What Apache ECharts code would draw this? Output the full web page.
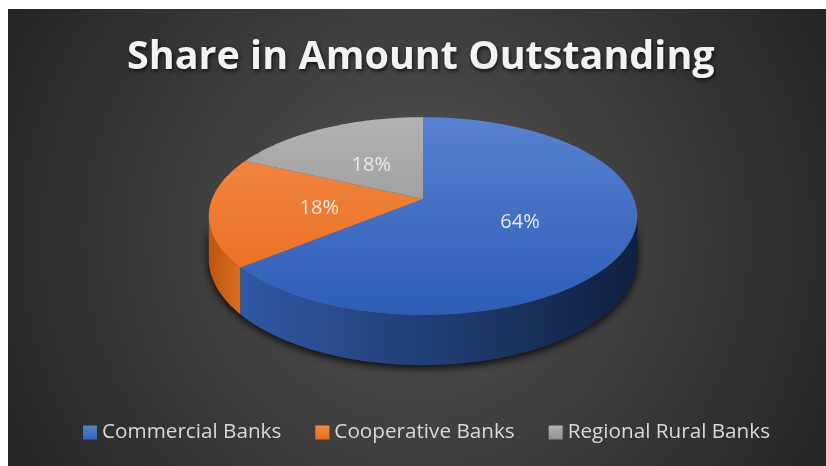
<!DOCTYPE html>
<html>
<head>
<meta charset="utf-8">
<script src="https://cdn.jsdelivr.net/npm/echarts@6/dist/echarts.min.js"></script>
<style>
  html, body { margin: 0; padding: 0; background: #ffffff; }
  #chart { width: 826px; height: 466px; }
</style>
</head>
<body>
<div id="chart"></div>
<script>
// Share of each bank group in the total amount outstanding (%)
const categories = ['Commercial Banks', 'Cooperative Banks', 'Regional Rural Banks'];
const shares = [64, 18, 18];

// Top-face colours per slice: [back, front]
const topColors = [['#5b85d4', '#2c5cb5'], ['#f38d4b', '#e86a1a'], ['#b5b5b5', '#888888']];
// Side-wall shading per slice, left to right across the disc
const sideStops = [
  [[0, '#325ead'], [1, '#10203f']],
  [[0, '#b9560f'], [0.08, '#de6e1d'], [1, '#de6e1d']],
  [[0, '#808080'], [1, '#555555']]
];
const legendColors = [['#5580d0', '#3563bd'], ['#f38a45', '#e8701f'], ['#b3b3b3', '#8f8f8f']];

// Disc drawn in perspective: centre, radii, perspective strength, thickness
const disc = { cx: 423, cy: 199, rx: 211, ry: 96, k: 0.173, depth: 41.4, labelRadius: 0.49 };

const total = shares.reduce((a, b) => a + b, 0);
const startAngles = [];
shares.reduce((acc, v, i) => { startAngles[i] = acc / total * Math.PI * 2; return acc + v; }, 0);

// theta: clockwise from 12 o'clock; r: fraction of radius; drop: vertical offset
function project(theta, r, drop) {
  const X = r * Math.sin(theta);
  const Z = r * Math.cos(theta);
  const s = 1 / (1 + disc.k * Z);
  return [disc.cx + disc.rx * X * s, disc.cy - disc.ry * Z * s + (drop || 0) * s];
}

function arc(a0, a1, drop) {
  const pts = [];
  const n = Math.max(2, Math.ceil((a1 - a0) / (Math.PI / 180)));
  for (let j = 0; j <= n; j++) pts.push(project(a0 + (a1 - a0) * j / n, 1, drop));
  return pts;
}

// front part of the rim that faces the viewer
const visFrom = Math.acos(-disc.k);
const visTo = Math.PI * 2 - visFrom;

const left = disc.cx - disc.rx * 1.02, right = disc.cx + disc.rx * 1.02;
const topY = disc.cy - disc.ry, bottomY = disc.cy + disc.ry * 1.25;

function renderSlice(params, api) {
  const i = params.seriesIndex;
  const a0 = startAngles[i];
  const a1 = a0 + api.value(0) / total * Math.PI * 2;
  const children = [];

  // soft shadow under the whole disc, drawn once
  if (i === 0) {
    const rim = arc(visFrom, visTo, 0).concat(arc(visFrom, visTo, disc.depth).reverse());
    children.push({
      type: 'polygon', z2: 0,
      shape: { points: rim },
      style: { fill: '#1c1c1c', shadowBlur: 8, shadowColor: 'rgba(0,0,0,0.85)', shadowOffsetY: 3 }
    });
  }

  // side wall
  const lo = Math.max(a0, visFrom), hi = Math.min(a1, visTo);
  if (hi > lo) {
    const pts = arc(lo, hi, 0).concat(arc(lo, hi, disc.depth).reverse());
    children.push({
      type: 'polygon', z2: 1,
      shape: { points: pts },
      style: {
        fill: new echarts.graphic.LinearGradient(left, 0, right, 0,
          sideStops[i].map(s => ({ offset: s[0], color: s[1] })), true),
        stroke: null
      }
    });
  }

  // top face
  const topPts = [project(0, 0, 0)].concat(arc(a0, a1, 0));
  children.push({
    type: 'polygon', z2: 5,
    shape: { points: topPts },
    style: {
      fill: new echarts.graphic.LinearGradient(0, topY, 0, bottomY, [
        { offset: 0, color: topColors[i][0] },
        { offset: 1, color: topColors[i][1] }
      ], true),
      stroke: null
    }
  });

  // percentage label
  const mid = (a0 + a1) / 2;
  const p = project(mid, disc.labelRadius, 0);
  children.push({
    type: 'text', z2: 10,
    x: p[0], y: p[1] + 3,
    style: {
      text: Math.round(api.value(0) / total * 100) + '%',
      fill: '#e8e8e8',
      font: '20px "Open Sans"',
      align: 'center',
      verticalAlign: 'middle'
    }
  });

  return { type: 'group', children: children };
}

const series = categories.map((name, i) => ({
  type: 'custom',
  name: name,
  coordinateSystem: 'none',
  silent: true,
  itemStyle: {
    color: new echarts.graphic.LinearGradient(0, 0, 0, 1, [
      { offset: 0, color: legendColors[i][0] },
      { offset: 1, color: legendColors[i][1] }
    ])
  },
  data: [[shares[i]]],
  renderItem: renderSlice
}));

const chart = echarts.init(document.getElementById('chart'));
chart.setOption({
  animation: false,
  backgroundColor: '#ffffff',
  graphic: [{
    type: 'rect', z: -10, silent: true,
    shape: { x: 8, y: 9, width: 818, height: 457 },
    style: {
      fill: new echarts.graphic.RadialGradient(0.5, 0.5, 1.0, [
        { offset: 0, color: '#545454' },
        { offset: 1, color: '#262626' }
      ])
    }
  }],
  title: {
    text: 'Share in Amount Outstanding',
    left: 122,
    top: 33,
    textStyle: {
      color: '#f2f2f2',
      fontFamily: 'Open Sans',
      fontWeight: 'bold',
      fontSize: 39.5,
      textShadowColor: 'rgba(0,0,0,0.75)',
      textShadowBlur: 4,
      textShadowOffsetX: 1,
      textShadowOffsetY: 2
    }
  },
  legend: {
    data: categories,
    left: 78,
    top: 417,
    icon: 'rect',
    itemWidth: 14,
    itemHeight: 14,
    itemGap: 34,
    selectedMode: false,
    textStyle: { color: '#d9d9d9', fontFamily: 'Open Sans', fontSize: 20.7 }
  },
  series: series
});
</script>
</body>
</html>
